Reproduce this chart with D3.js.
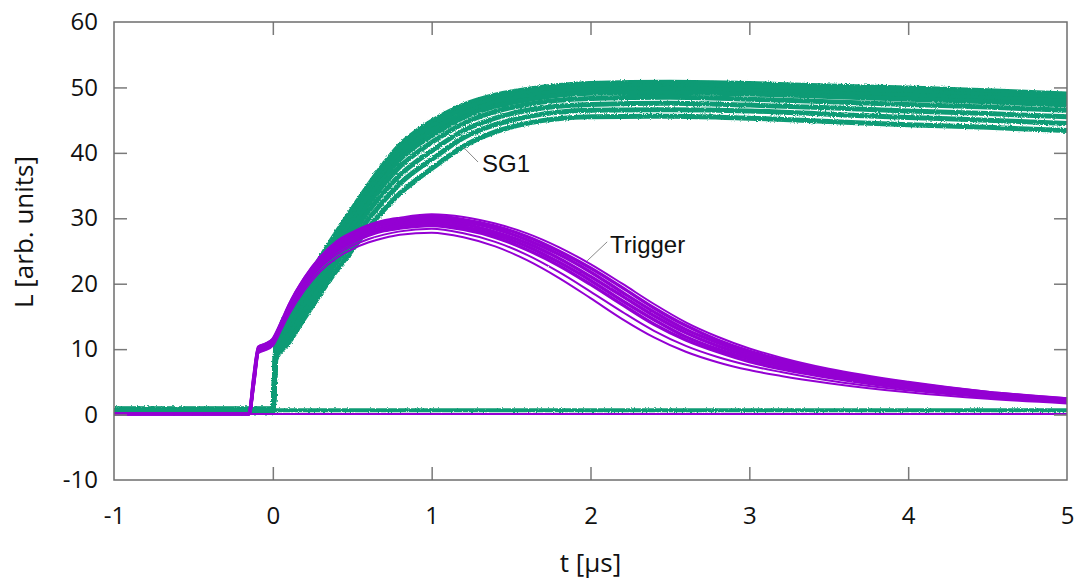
<!DOCTYPE html>
<html>
<head>
<meta charset="utf-8">
<script src="https://cdn.jsdelivr.net/npm/d3@7"></script>
<style>
  html, body { margin: 0; padding: 0; background: #fff; }
  svg { display: block; }
  .tick text { font-family: "Open Sans", sans-serif; font-size: 24px; fill: #111; }
  .tick line { stroke: #7a7a7a; stroke-width: 1.5px; }
</style>
</head>
<body>
<svg id="chart" width="1080" height="581"></svg>
<script>
// Axis ticks
const xTicks = [-1, 0, 1, 2, 3, 4, 5];
const yTicks = [-10, 0, 10, 20, 30, 40, 50, 60];

// SG1 light output traces (time in µs, L in arb. units)
const sg1Times = [-1, 0.0, 0.02, 0.1, 0.2, 0.3, 0.4, 0.5, 0.6, 0.7, 0.8, 0.9, 1.0, 1.2, 1.4, 1.6, 2.0, 2.5, 3.0, 3.5, 4.0, 4.5, 5.0];
const sg1Run1 = [0.7, 0.7, 10.8, 16.0, 20.0, 24.0, 27.8, 31.4, 35.0, 38.3, 41.2, 43.2, 44.8, 47.3, 48.8, 49.7, 50.6, 50.8, 50.6, 50.2, 49.9, 49.5, 49.0];
const sg1Run2 = [0.6, 0.6, 10.6, 15.5, 19.5, 23.4, 27.2, 30.8, 34.3, 37.6, 40.5, 42.5, 44.1, 46.7, 48.2, 49.2, 50.1, 50.3, 50.1, 49.7, 49.3, 48.9, 48.4];
const sg1Run3 = [0.8, 0.8, 10.3, 15.0, 19.0, 22.9, 26.6, 30.2, 33.7, 36.9, 39.7, 41.7, 43.4, 46.0, 47.7, 48.7, 49.6, 49.8, 49.5, 49.1, 48.8, 48.4, 47.9];
const sg1Run4 = [0.5, 0.5, 10.1, 14.5, 18.4, 22.4, 26.1, 29.5, 33.1, 36.2, 39.0, 41.0, 42.6, 45.4, 47.1, 48.1, 49.1, 49.2, 49.0, 48.6, 48.2, 47.8, 47.3];
const sg1Run5 = [0.7, 0.7, 9.8, 13.8, 17.7, 21.5, 25.2, 28.6, 32.1, 35.2, 37.9, 39.9, 41.6, 44.5, 46.3, 47.4, 48.3, 48.5, 48.2, 47.8, 47.4, 47.0, 46.5];
const sg1Run6 = [0.9, 0.9, 9.4, 12.9, 16.8, 20.6, 24.2, 27.6, 31.0, 34.0, 36.6, 38.6, 40.3, 43.4, 45.3, 46.5, 47.4, 47.6, 47.3, 46.9, 46.4, 46.0, 45.5];
const sg1Run7 = [0.6, 0.6, 9.0, 12.0, 15.8, 19.6, 23.2, 26.4, 29.8, 32.7, 35.3, 37.3, 39.0, 42.3, 44.3, 45.5, 46.5, 46.6, 46.4, 45.9, 45.4, 45.0, 44.5];
const sg1Run8 = [0.4, 0.4, 8.5, 11.0, 14.8, 18.5, 22.0, 25.2, 28.5, 31.3, 33.8, 35.8, 37.6, 41.0, 43.2, 44.5, 45.5, 45.6, 45.3, 44.8, 44.3, 43.9, 43.4];
const sg1Runs = [sg1Run1, sg1Run2, sg1Run3, sg1Run4, sg1Run5, sg1Run6, sg1Run7, sg1Run8];

// Trigger light output traces
const trigTimes = [-1, -0.15, -0.12, -0.09, -0.05, 0.0, 0.05, 0.1, 0.2, 0.3, 0.4, 0.5, 0.6, 0.7, 0.8, 1.0, 1.2, 1.4, 1.6, 1.8, 2.0, 2.2, 2.4, 2.6, 2.8, 3.0, 3.2, 3.5, 4.0, 4.5, 5.0];
const trigRun1 = [0.1, 0.1, 6.0, 10.4, 10.8, 11.6, 14.0, 16.8, 21.0, 24.2, 26.5, 27.9, 29.0, 29.7, 30.1, 30.6, 30.2, 29.2, 27.7, 25.6, 23.0, 20.0, 16.9, 14.1, 11.9, 10.1, 8.7, 7.0, 5.0, 3.5, 2.5];
const trigRun2 = [0.1, 0.1, 5.8, 10.3, 10.7, 11.5, 13.9, 16.6, 20.8, 23.9, 26.2, 27.6, 28.7, 29.4, 29.8, 30.3, 29.8, 28.8, 27.2, 25.0, 22.4, 19.4, 16.3, 13.6, 11.4, 9.7, 8.4, 6.7, 4.8, 3.4, 2.4];
const trigRun3 = [0.1, 0.1, 5.5, 10.2, 10.6, 11.3, 13.7, 16.4, 20.5, 23.6, 25.9, 27.3, 28.4, 29.1, 29.5, 29.9, 29.5, 28.4, 26.7, 24.5, 21.8, 18.7, 15.7, 13.0, 11.0, 9.3, 8.0, 6.5, 4.6, 3.2, 2.3];
const trigRun4 = [0.1, 0.1, 5.3, 10.0, 10.4, 11.2, 13.6, 16.2, 20.3, 23.4, 25.6, 27.0, 28.0, 28.7, 29.2, 29.6, 29.1, 27.9, 26.2, 23.9, 21.1, 18.1, 15.1, 12.5, 10.5, 8.9, 7.7, 6.2, 4.4, 3.1, 2.2];
const trigRun5 = [0.1, 0.1, 5.0, 9.9, 10.3, 11.1, 13.4, 16.0, 20.0, 23.1, 25.3, 26.7, 27.7, 28.4, 28.9, 29.3, 28.7, 27.5, 25.7, 23.3, 20.5, 17.4, 14.5, 11.9, 10.0, 8.5, 7.4, 5.9, 4.2, 3.0, 2.1];
const trigRun6 = [0.1, 0.1, 4.8, 9.8, 10.2, 10.9, 13.3, 15.8, 19.8, 22.8, 24.9, 26.3, 27.4, 28.1, 28.5, 28.9, 28.3, 27.1, 25.2, 22.8, 19.9, 16.8, 13.8, 11.4, 9.6, 8.1, 7.0, 5.7, 4.0, 2.8, 2.0];
const trigRun7 = [0.1, 0.1, 4.4, 9.6, 10.0, 10.7, 13.0, 15.5, 19.4, 22.4, 24.4, 25.8, 26.8, 27.5, 28.0, 28.4, 27.7, 26.4, 24.4, 21.8, 18.8, 15.7, 12.8, 10.5, 8.8, 7.5, 6.5, 5.2, 3.7, 2.6, 1.9];
const trigRun8 = [0.1, 0.1, 4.0, 9.4, 9.8, 10.5, 12.8, 15.2, 19.0, 21.9, 23.9, 25.3, 26.3, 27.0, 27.5, 27.8, 27.1, 25.7, 23.6, 20.9, 17.8, 14.6, 11.8, 9.6, 8.0, 6.8, 5.9, 4.8, 3.4, 2.4, 1.7];
const trigRuns = [trigRun1, trigRun2, trigRun3, trigRun4, trigRun5, trigRun6, trigRun7, trigRun8];

// Pedestal traces without a signal
const pedTimes = [-1, 5];
const sg1Pedestal = [0.65, 0.65];
const trigPedestal = [0.1, 0.1];

// Curve labels with leader lines: [t, L] of text anchor and leader ends
const labels = [
  { text: "SG1",     at: [1.317, 37.0], from: [1.198, 40.9], to: [1.292, 38.6] },
  { text: "Trigger", at: [2.123, 24.7], from: [1.979, 23.5], to: [2.105, 26.4] }
];

const GREEN = "#0e9b74";
const PURPLE = "#9400d3";

const svg = d3.select("#chart");
const plot = { left: 114, right: 1067, top: 22, bottom: 480 };

const x = d3.scaleLinear().domain([-1, 5]).range([plot.left, plot.right]);
const y = d3.scaleLinear().domain([-10, 60]).range([plot.bottom, plot.top]);

const defs = svg.append("defs");
defs.append("clipPath").attr("id", "plotClip")
  .append("rect")
  .attr("x", plot.left).attr("y", plot.top)
  .attr("width", plot.right - plot.left).attr("height", plot.bottom - plot.top);

// Rough edge texture for the noisy digitiser traces
function roughFilter(id, freq, scale) {
  const f = defs.append("filter").attr("id", id)
    .attr("filterUnits", "userSpaceOnUse")
    .attr("x", 0).attr("y", 0).attr("width", 1080).attr("height", 581);
  f.append("feTurbulence").attr("type", "fractalNoise")
    .attr("baseFrequency", freq).attr("numOctaves", 2).attr("seed", 3).attr("result", "n");
  f.append("feDisplacementMap").attr("in", "SourceGraphic").attr("in2", "n")
    .attr("scale", scale).attr("xChannelSelector", "R").attr("yChannelSelector", "G");
}
roughFilter("roughG", "0.7 0.9", 3);
roughFilter("roughP", "0.5 0.8", 1.4);

const line = d3.line()
  .x(d => x(d[0]))
  .y(d => y(d[1]))
  .curve(d3.curveMonotoneX);

const traces = svg.append("g").attr("clip-path", "url(#plotClip)");

// SG1 group
const gGreen = traces.append("g").attr("filter", "url(#roughG)");
gGreen.append("path")
  .datum(d3.zip(pedTimes, sg1Pedestal))
  .attr("d", line)
  .attr("fill", "none").attr("stroke", GREEN).attr("stroke-width", 4);
gGreen.selectAll("path.sg1")
  .data(sg1Runs)
  .join("path")
  .attr("class", "sg1")
  .attr("d", vals => line(d3.zip(sg1Times, vals)))
  .attr("fill", "none").attr("stroke", GREEN).attr("stroke-width", 5)
  .attr("stroke-linejoin", "round");

// Trigger group
const gPurple = traces.append("g").attr("filter", "url(#roughP)");
gPurple.append("path")
  .datum(d3.zip(pedTimes, trigPedestal))
  .attr("d", line)
  .attr("fill", "none").attr("stroke", PURPLE).attr("stroke-width", 2);
gPurple.selectAll("path.trig")
  .data(trigRuns)
  .join("path")
  .attr("class", "trig")
  .attr("d", vals => line(d3.zip(trigTimes, vals)))
  .attr("fill", "none").attr("stroke", PURPLE)
  .attr("stroke-width", (d, i) => (i === 0 || i >= 6) ? 2 : 3.4)
  .attr("stroke-linejoin", "round");

// Axes with inward ticks on all four sides
const TICK = 13;
const axB = svg.append("g").attr("transform", `translate(0,${plot.bottom})`)
  .call(d3.axisBottom(x).tickValues(xTicks).tickSize(-TICK).tickPadding(27));
const axL = svg.append("g").attr("transform", `translate(${plot.left},0)`)
  .call(d3.axisLeft(y).tickValues(yTicks).tickSize(-TICK).tickPadding(16));
const axT = svg.append("g").attr("transform", `translate(0,${plot.top})`)
  .call(d3.axisTop(x).tickValues(xTicks).tickSize(-TICK).tickFormat(""));
const axR = svg.append("g").attr("transform", `translate(${plot.right},0)`)
  .call(d3.axisRight(y).tickValues(yTicks).tickSize(-TICK).tickFormat(""));
[axB, axL, axT, axR].forEach(a => a.select(".domain").remove());
// plain hyphen for negative numbers
[axB, axL].forEach(a => a.selectAll(".tick text").text(d => d < 0 ? "-" + Math.abs(d) : String(d)));
// no tick marks on the frame corners
[axB, axT].forEach(a => a.selectAll(".tick line").filter(d => d === -1 || d === 5).remove());
[axL, axR].forEach(a => a.selectAll(".tick line").filter(d => d === -10 || d === 60).remove());

svg.append("rect")
  .attr("x", plot.left).attr("y", plot.top)
  .attr("width", plot.right - plot.left).attr("height", plot.bottom - plot.top)
  .attr("fill", "none").attr("stroke", "#6e6e6e").attr("stroke-width", 1.5);

// Axis titles
svg.append("text")
  .attr("x", (plot.left + plot.right) / 2).attr("y", 572)
  .attr("text-anchor", "middle")
  .style("font-family", "'Open Sans', sans-serif").style("font-size", "26px").style("fill", "#111")
  .text("t [µs]");
svg.append("text")
  .attr("transform", "translate(33,232) rotate(-90)")
  .attr("text-anchor", "middle")
  .style("font-family", "'Open Sans', sans-serif").style("font-size", "26px").style("fill", "#111")
  .text("L [arb. units]");

// Curve labels
const lab = svg.append("g");
lab.selectAll("line")
  .data(labels).join("line")
  .attr("x1", d => x(d.from[0])).attr("y1", d => y(d.from[1]))
  .attr("x2", d => x(d.to[0])).attr("y2", d => y(d.to[1]))
  .attr("stroke", "#8a8a8a").attr("stroke-width", 1);
lab.selectAll("text")
  .data(labels).join("text")
  .attr("x", d => x(d.at[0])).attr("y", d => y(d.at[1]))
  .style("font-family", "'Liberation Sans', Arial, sans-serif").style("font-size", "24px").style("fill", "#111")
  .text(d => d.text);
</script>
</body>
</html>
